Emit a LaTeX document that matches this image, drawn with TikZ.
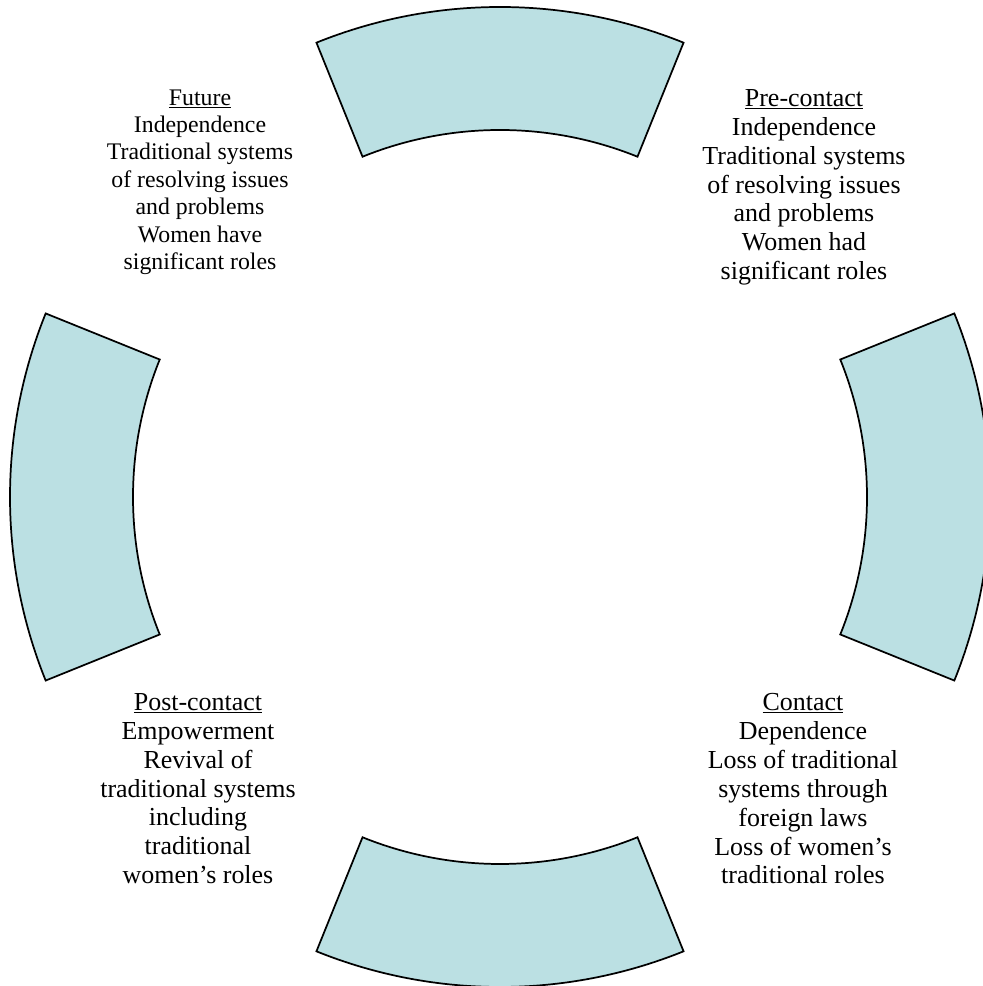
\documentclass[tikz,border=0pt]{standalone}
\usepackage{fontspec}
\setmainfont{Liberation Serif}
\usepackage{tikz}
\usetikzlibrary{calc}

\definecolor{ringfill}{RGB}{187,224,227}

% underlined stage title, line close to the baseline
\newcommand{\stagehead}[1]{{\setbox0\hbox{#1}\rlap{\rule[-1.3pt]{\wd0}{0.55pt}}\box0}}

\tikzset{
    ringpart/.style={fill=ringfill, draw=black, line width=0.8pt},
    stagetext/.style={align=center, anchor=north, inner sep=0pt, font=\fontsize{12}{13.35}\selectfont},
}

\begin{document}
\begin{tikzpicture}[x=0.4623pt, y=0.4623pt]
    \useasboundingbox (0,0) rectangle (982,986);
    \coordinate (mid) at (500,489);

    % Ring segments
    \foreach \a [evaluate=\a as \s using \a-22, evaluate=\a as \e using \a+22] in {0,90,180,270} {
        \draw[ringpart] ($(mid)+(\s:490)$) arc[start angle=\s, end angle=\e, radius=490]
            -- ($(mid)+(\e:367)$) arc[start angle=\e, end angle=\s, radius=367] -- cycle;
    }

    % Stage texts
    \node[stagetext, font=\fontsize{11}{12.7}\selectfont] (future) at (200,897)
        {\stagehead{Future}\\Independence\\Traditional systems\\of resolving issues\\and problems\\Women have\\significant roles};
    \node[stagetext] (precontact) at (804,897)
        {\stagehead{Pre-contact}\\Independence\\Traditional systems\\of resolving issues\\and problems\\Women had\\significant roles};
    \node[stagetext] (contact) at (803,293)
        {\stagehead{Contact}\\Dependence\\Loss of traditional\\systems through\\foreign laws\\Loss of women’s\\traditional roles};
    \node[stagetext] (postcontact) at (198,293)
        {\stagehead{Post-contact}\\Empowerment\\Revival of\\traditional systems\\including\\traditional\\women’s roles};

\end{tikzpicture}
\end{document}
